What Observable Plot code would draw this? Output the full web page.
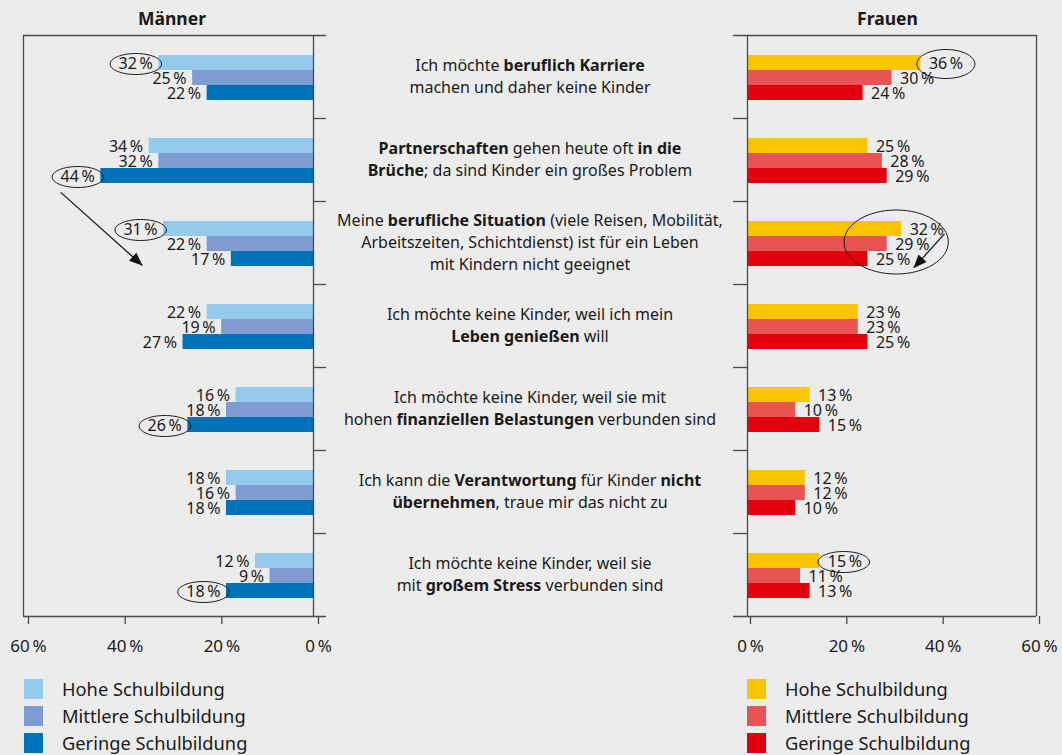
<!DOCTYPE html>
<html><head><meta charset="utf-8">
<script src="https://cdn.jsdelivr.net/npm/d3@7"></script>
<script src="https://cdn.jsdelivr.net/npm/@observablehq/plot@0.6"></script>
<style>
html,body{margin:0;padding:0;background:#ececec;}
#chart{position:relative;width:1062px;height:755px;background:#ececec;font-family:"Noto Sans",sans-serif;color:#1a1a1a;overflow:hidden}
#chart svg{position:absolute;top:0;}
.title{position:absolute;top:8px;font-weight:700;font-size:17.5px;line-height:20px;transform:translateX(-50%);white-space:nowrap}
.stmt{position:absolute;left:300px;width:460px;text-align:center;font-size:16px;line-height:22px;}
.stmt b{font-weight:700}
.lg{position:absolute;display:flex;align-items:center;font-size:18.3px;line-height:20px;white-space:nowrap}
.sw{width:19px;height:20px;margin-right:19px;flex:none}
</style></head><body><div id="chart"></div><script>
// ---------- data ----------
const categories = ["Karriere", "Partnerschaften", "Berufliche Situation", "Leben genießen", "Finanzielle Belastungen", "Verantwortung", "Stress"];
const statements = [
  ["Ich möchte **beruflich Karriere**", "machen und daher keine Kinder"],
  ["**Partnerschaften** gehen heute oft **in die**", "**Brüche**; da sind Kinder ein großes Problem"],
  ["Meine **berufliche Situation** (viele Reisen, Mobilität,", "Arbeitszeiten, Schichtdienst) ist für ein Leben", "mit Kindern nicht geeignet"],
  ["Ich möchte keine Kinder, weil ich mein", "**Leben genießen** will"],
  ["Ich möchte keine Kinder, weil sie mit", "hohen **finanziellen Belastungen** verbunden sind"],
  ["Ich kann die **Verantwortung** für Kinder **nicht**", "**übernehmen**, traue mir das nicht zu"],
  ["Ich möchte keine Kinder, weil sie", "mit **großem Stress** verbunden sind"]
];
const levels = ["Hohe Schulbildung", "Mittlere Schulbildung", "Geringe Schulbildung"];
const maennerHohe     = [32, 34, 31, 22, 16, 18, 12];
const maennerMittlere = [25, 32, 22, 19, 18, 16, 9];
const maennerGeringe  = [22, 44, 17, 27, 26, 18, 18];
const frauenHohe      = [36, 25, 32, 23, 13, 12, 15];
const frauenMittlere  = [30, 28, 29, 23, 10, 12, 11];
const frauenGeringe   = [24, 29, 25, 25, 15, 10, 13];
const panelTitles = ["Männer", "Frauen"];
const xTicks = [0, 20, 40, 60];
const menColors = ["#94cbec", "#7f9cd2", "#0072ba"];
const womenColors = ["#fbc400", "#e85454", "#e2000f"];
// highlighted labels: [category index, level index]
const menHighlights = [[0, 0], [1, 2], [2, 0], [4, 2], [6, 2]];
const womenHighlights = [[6, 0]];
const womenBigHighlights = [[0, 0]];
const womenGroupHighlights = [[2, 1]];
// annotation arrows (x in %, y in category units)
const menArrows = [{x1: 52.3, y1: 1.89, x2: 35.4, y2: 2.77, angle: 41.7}];
const womenArrows = [{x1: 40.9, y1: 2.39, x2: 34.5, y2: 2.80, angle: 132.4}];

// ---------- helpers ----------
const LINE = "#4a4a4a";
const FONT = "'Noto Sans', sans-serif";
const PAD = 20 / 83, SLOT = 15 / 83;
const y1Of = d => d.i + PAD + d.k * SLOT;
const y2Of = d => d.i + PAD + (d.k + 1) * SLOT;
const ycOf = d => d.i + PAD + (d.k + 0.5) * SLOT;
const pct = v => v + "\u2009%";

function rows(series) {
  return categories.flatMap((c, i) => series.map((vals, k) => ({cat: c, i, k, level: levels[k], value: vals[i]})));
}
function pick(data, list) {
  return list.map(([i, k]) => data.find(d => d.i === i && d.k === k));
}
function ellipse(ar) {
  return {
    draw(ctx, size) {
      const ry = Math.sqrt(size / Math.PI), rx = ry * ar, c = 0.5523;
      ctx.moveTo(rx, 0);
      ctx.bezierCurveTo(rx, ry * c, rx * c, ry, 0, ry);
      ctx.bezierCurveTo(-rx * c, ry, -rx, ry * c, -rx, 0);
      ctx.bezierCurveTo(-rx, -ry * c, -rx * c, -ry, 0, -ry);
      ctx.bezierCurveTo(rx * c, -ry, rx, -ry * c, rx, 0);
      ctx.closePath();
    }
  };
}
const arrowHead = {
  draw(ctx) {
    ctx.moveTo(0, 0);
    ctx.lineTo(-13, -5.5);
    ctx.lineTo(-13, 5.5);
    ctx.closePath();
  }
};

function panel({series, colors, left, highlights, bigHighlights, groupHighlights, arrows}) {
  const data = rows(series);
  const ext = left ? 2.7 : 2.9;
  const marks = [
    Plot.rectX(data, {x1: 0, x2: "value", y1: y1Of, y2: y2Of, fill: "level"}),
    Plot.ruleX([0, 60], {y1: 0, y2: 7, stroke: LINE, strokeWidth: 1.3}),
    Plot.ruleY([0, 7], {x1: 60, x2: -ext, stroke: LINE, strokeWidth: 1.3}),
    Plot.ruleY(d3.range(1, 7), {x1: 0, x2: -ext, stroke: LINE, strokeWidth: 1.3}),
    Plot.axisX({ticks: xTicks, tickFormat: pct, tickSize: 8, tickPadding: 15, fontSize: 17, stroke: LINE, strokeWidth: 1.3, dx: left ? 5 : 3}),
    Plot.text(data, {x: "value", y: ycOf, dy: 1, text: d => pct(d.value), textAnchor: left ? "end" : "start", dx: left ? -6 : 8, fontSize: 16, fill: "#1a1a1a"}),
    Plot.dot(pick(data, highlights), {x: "value", y: ycOf, dx: left ? -23 : 24, dy: 1, r: 10.5, symbol: ellipse(2.45), stroke: "#1a1a1a", strokeWidth: 1, fill: "none"})
  ];
  if (bigHighlights) marks.push(Plot.dot(pick(data, bigHighlights), {x: "value", y: ycOf, dx: 25, dy: 1, r: 14.5, symbol: ellipse(2), stroke: "#1a1a1a", strokeWidth: 1, fill: "none"}));
  if (groupHighlights) marks.push(Plot.dot(pick(data, groupHighlights), {x: "value", y: ycOf, dx: 9, dy: -2, r: 32, symbol: ellipse(1.63), stroke: "#1a1a1a", strokeWidth: 1, fill: "none"}));
  if (arrows) {
    marks.push(Plot.link(arrows, {x1: "x1", y1: "y1", x2: "x2", y2: "y2", stroke: "#1a1a1a", strokeWidth: 1.3}));
    marks.push(Plot.dot(arrows, {x: "x2", y: "y2", symbol: arrowHead, r: 5, rotate: "angle", fill: "#111", stroke: "none"}));
  }
  return Plot.plot({
    width: left ? 340 : 362,
    height: 665,
    marginLeft: left ? 23 : 47,
    marginRight: left ? 27 : 26,
    marginTop: 35,
    marginBottom: 49,
    style: {background: "transparent", fontFamily: FONT, fontSize: "16px", color: "#1a1a1a", overflow: "visible"},
    x: {domain: [0, 60], reverse: left},
    y: {domain: [0, 7], range: [35, 616], axis: null},
    color: {domain: levels, range: colors},
    marks
  });
}

const chart = document.getElementById("chart");
const leftPlot = panel({series: [maennerHohe, maennerMittlere, maennerGeringe], colors: menColors, left: true, highlights: menHighlights, arrows: menArrows});
const rightPlot = panel({series: [frauenHohe, frauenMittlere, frauenGeringe], colors: womenColors, left: false, highlights: womenHighlights, bigHighlights: womenBigHighlights, groupHighlights: womenGroupHighlights, arrows: womenArrows});
leftPlot.style.left = "0px";
rightPlot.style.left = "700px";
chart.appendChild(leftPlot);
chart.appendChild(rightPlot);

// titles
const xl = leftPlot.scale("x"), xr = rightPlot.scale("x");
[[panelTitles[0], (xl.apply(0) + xl.apply(60)) / 2 + 4], [panelTitles[1], 700 + (xr.apply(0) + xr.apply(60)) / 2 - 4]].forEach(([t, cx]) => {
  const d = document.createElement("div");
  d.className = "title"; d.textContent = t; d.style.left = cx + "px";
  chart.appendChild(d);
});

// statements
const ys = leftPlot.scale("y");
statements.forEach((lines, i) => {
  const d = document.createElement("div");
  d.className = "stmt";
  d.innerHTML = lines.map(l => l.replace(/\*\*(.+?)\*\*/g, "<b>$1</b>")).join("<br>");
  d.style.top = (ys.apply(i + 0.5) - lines.length * 11 - 1) + "px";
  chart.appendChild(d);
});

// legends
function legend(colors, x) {
  levels.forEach((lv, k) => {
    const row = document.createElement("div");
    row.className = "lg";
    row.style.left = x + "px";
    row.style.top = (679 + k * 27) + "px";
    row.innerHTML = `<span class="sw" style="background:${colors[k]}"></span><span>${lv}</span>`;
    chart.appendChild(row);
  });
}
legend(menColors, 24);
legend(womenColors, 747);
</script></body></html>
